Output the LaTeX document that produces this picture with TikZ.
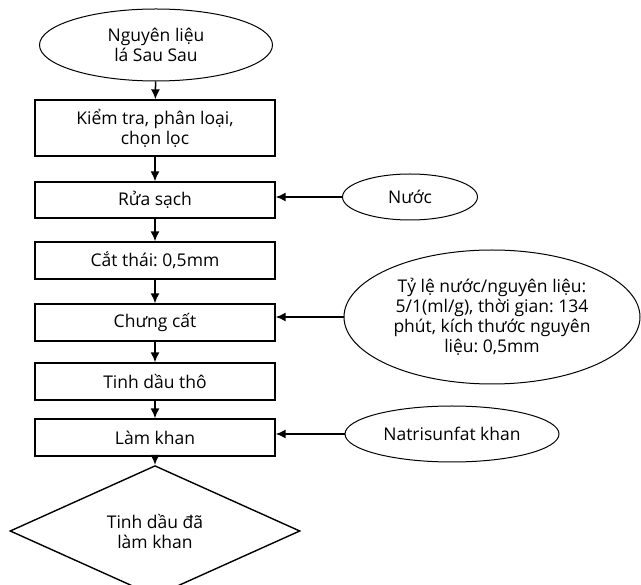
\documentclass[tikz,border=0pt]{standalone}
\usepackage{fontspec}
\setmainfont{Open Sans}
\usetikzlibrary{shapes.geometric,arrows.meta}
\begin{document}
\frenchspacing
\begin{tikzpicture}[x=1pt,y=-1pt,
  every node/.style={font=\fontsize{17.5}{20}\selectfont, align=center, inner sep=0pt, line width=1.4pt},
  stepbox/.style={draw, rectangle, minimum width=240pt},
  oval/.style={draw, ellipse, line width=1pt},
  diam/.style={draw, diamond, minimum width=290pt, minimum height=106pt},
  arr/.style={line width=1.5pt, -{Latex[length=10pt,width=9pt]}}]
\useasboundingbox (0,0) rectangle (641,585);
\node[oval, minimum width=233pt, minimum height=72pt] (n0) at (156,45) {Nguyên liệu\\lá Sau Sau};
\node[stepbox, minimum height=56pt] (b1) at (155,128) {Kiểm tra, phân loại,\\chọn lọc};
\node[stepbox, minimum height=36pt] (b2) at (155,200) {Rửa sạch};
\node[stepbox, minimum height=37pt] (b3) at (155,260.5) {Cắt thái: 0,5mm};
\node[stepbox, minimum height=37pt] (b4) at (155,322.5) {Chưng cất};
\node[stepbox, minimum height=37pt] (b5) at (155,381.5) {Tinh dầu thô};
\node[stepbox, minimum height=37pt] (b6) at (155,437.5) {Làm khan};
\node[diam] (d) at (155,531) {Tinh dầu đã\\làm khan};
\node[oval, minimum width=135pt, minimum height=46pt] (w) at (410,197) {Nước};
\node[oval, minimum width=296pt, minimum height=134pt] (p) at (492,317) {Tỷ lệ nước/nguyên liệu:\\5/1(ml/g), thời gian: 134\\phút, kích thước nguyên\\liệu: 0,5mm};
\node[oval, minimum width=214pt, minimum height=56pt] (s) at (452,434) {Natrisunfat khan};
\draw[arr] (n0) -- (b1);
\draw[arr] (b1) -- (b2);
\draw[arr] (b2) -- (b3);
\draw[arr] (b3) -- (b4);
\draw[arr] (b4) -- (b5);
\draw[arr] (b5) -- (b6);
\draw[arr] (b6) -- (d);
\draw[arr] (w.west) -- (w.west -| b2.east);
\draw[arr] (p.west) -- (p.west -| b4.east);
\draw[arr] (s.west) -- (s.west -| b6.east);
\end{tikzpicture}
\end{document}
